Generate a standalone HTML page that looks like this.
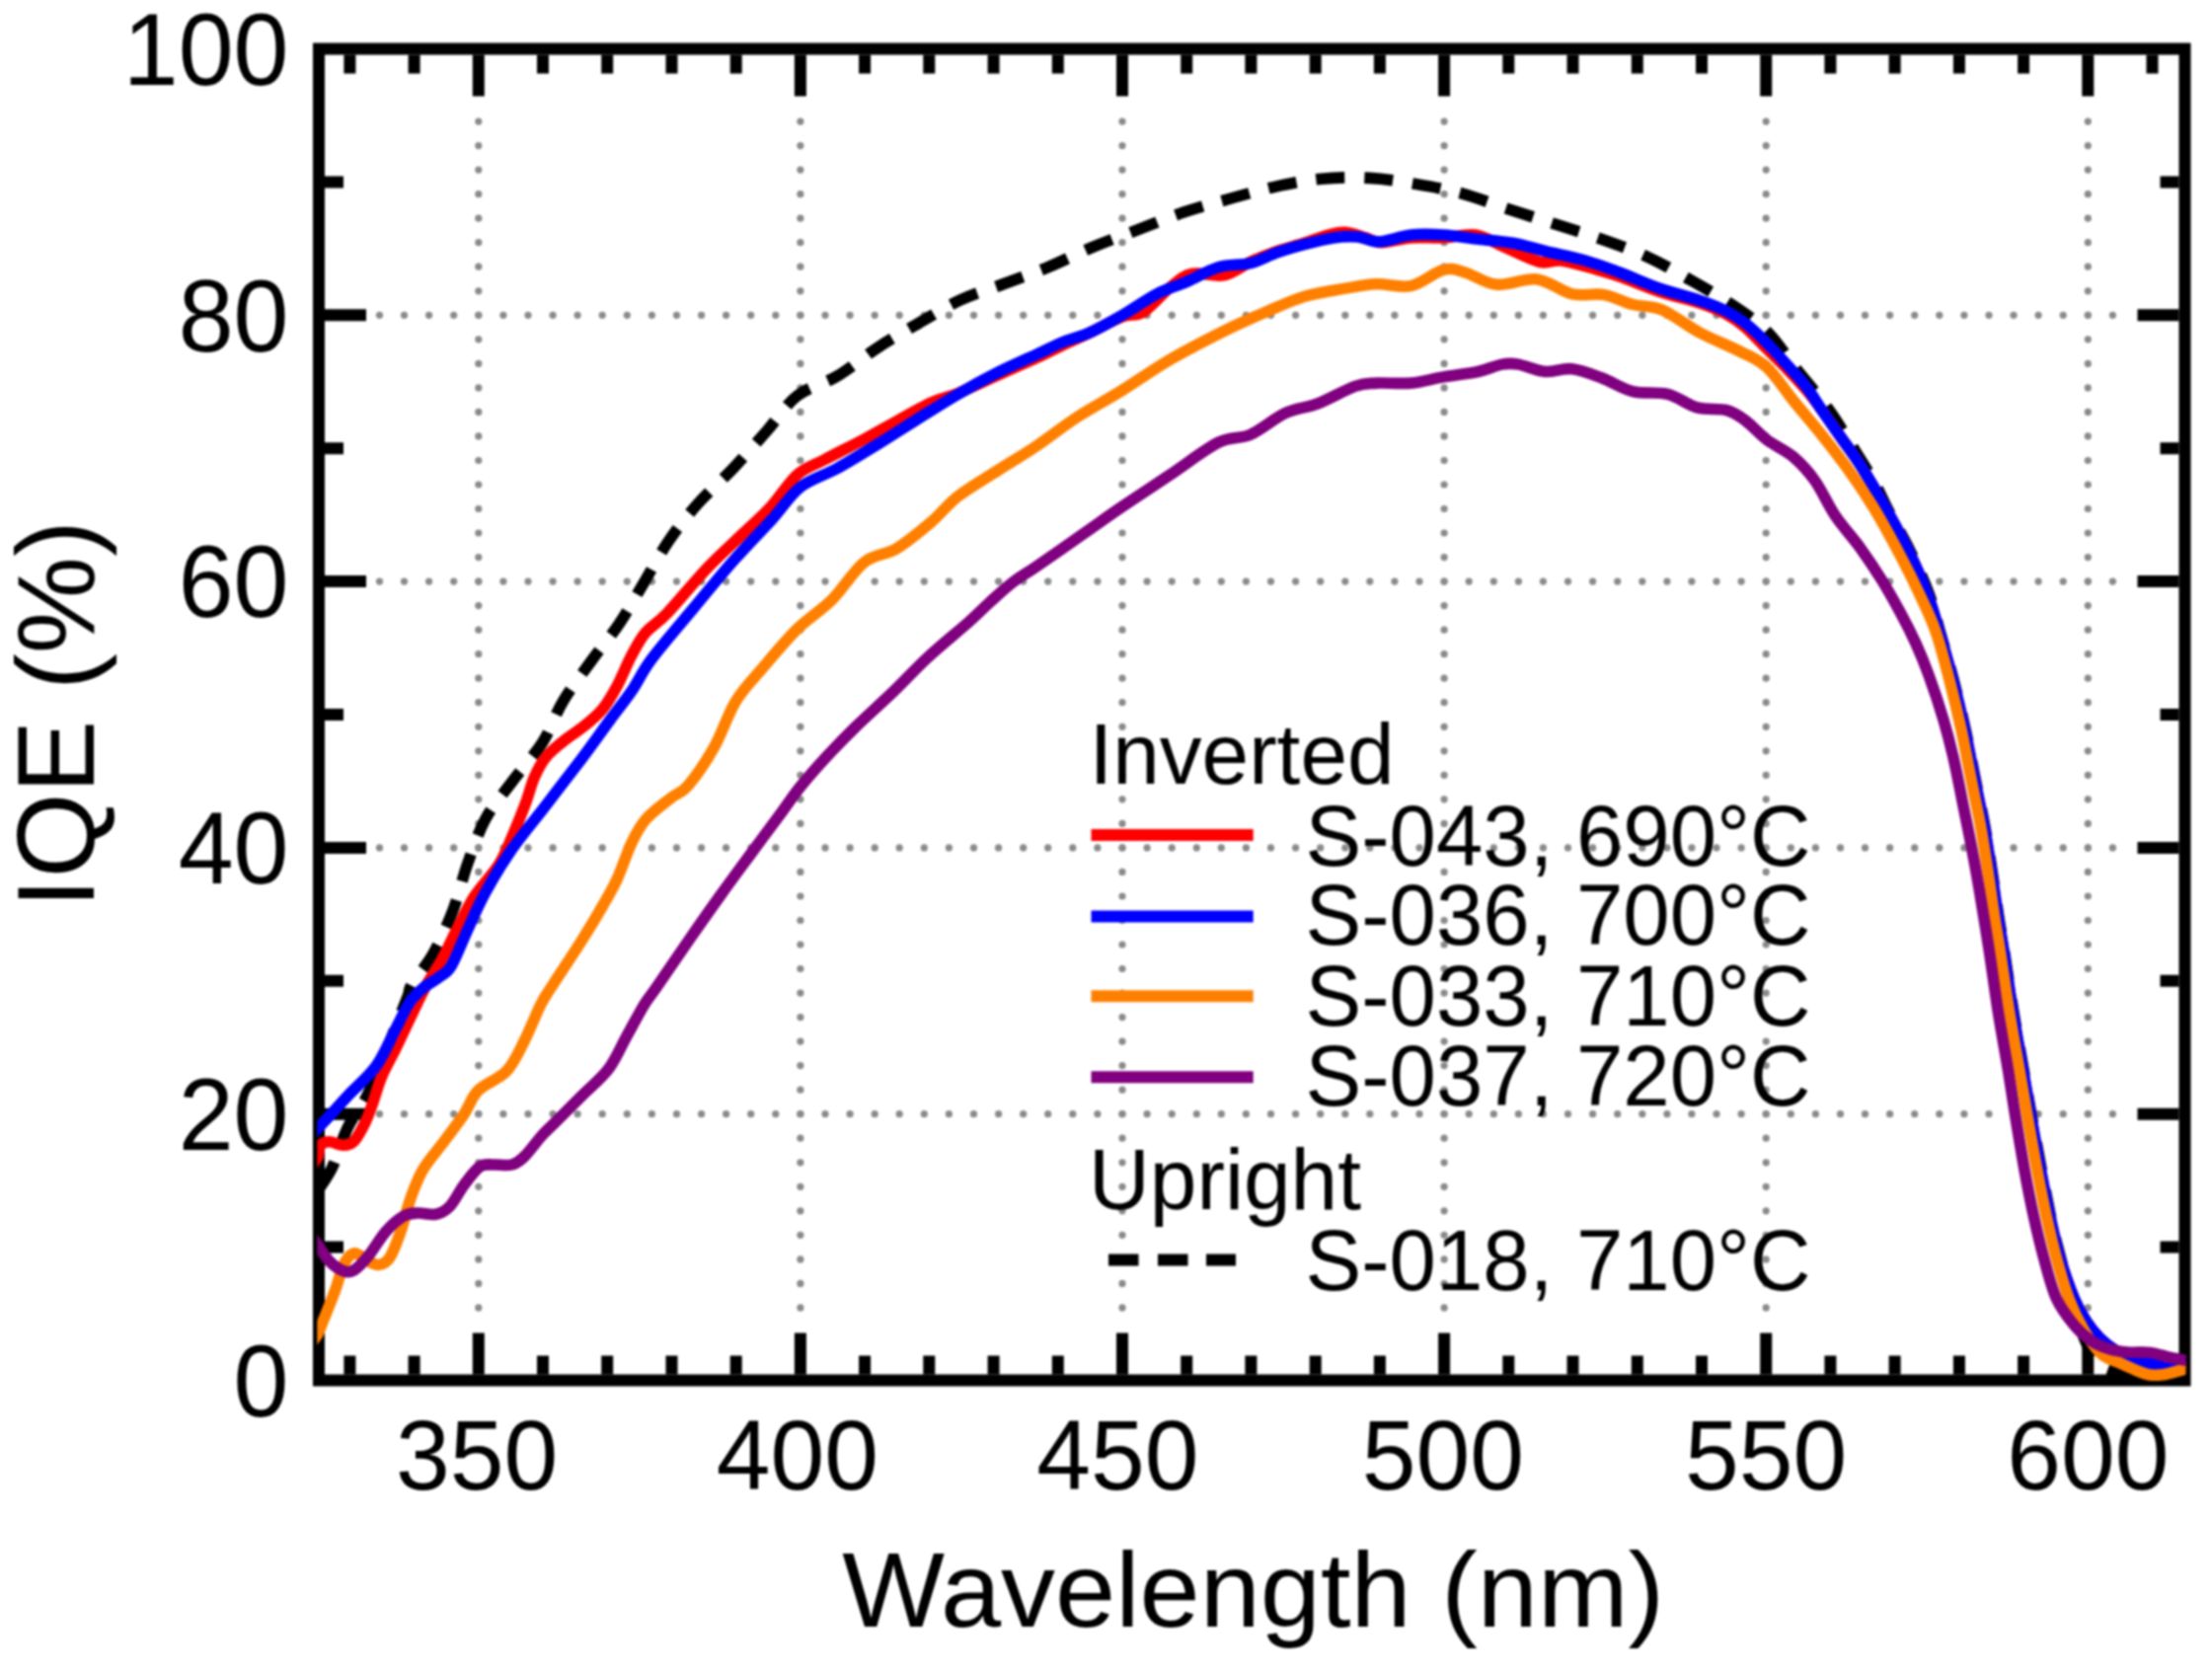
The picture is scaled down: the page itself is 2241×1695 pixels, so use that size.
<!DOCTYPE html><html><head><meta charset="utf-8"><title>IQE vs Wavelength</title><style>html,body{margin:0;padding:0;background:#fff;overflow:hidden}svg{display:block;filter:blur(1.1px)}</style></head><body><svg width="2241" height="1695" viewBox="0 0 2241 1695">
<rect width="2241" height="1695" fill="#fff"/>
<g fill="#8a8a8a"><circle cx="484.8" cy="1324.9" r="3.6"/><circle cx="484.8" cy="1300.4" r="3.6"/><circle cx="484.8" cy="1275.9" r="3.6"/><circle cx="484.8" cy="1251.3" r="3.6"/><circle cx="484.8" cy="1226.8" r="3.6"/><circle cx="484.8" cy="1202.3" r="3.6"/><circle cx="484.8" cy="1177.8" r="3.6"/><circle cx="484.8" cy="1153.2" r="3.6"/><circle cx="484.8" cy="1128.7" r="3.6"/><circle cx="484.8" cy="1104.2" r="3.6"/><circle cx="484.8" cy="1079.6" r="3.6"/><circle cx="484.8" cy="1055.1" r="3.6"/><circle cx="484.8" cy="1030.6" r="3.6"/><circle cx="484.8" cy="1006.1" r="3.6"/><circle cx="484.8" cy="981.5" r="3.6"/><circle cx="484.8" cy="957.0" r="3.6"/><circle cx="484.8" cy="932.5" r="3.6"/><circle cx="484.8" cy="908.0" r="3.6"/><circle cx="484.8" cy="883.4" r="3.6"/><circle cx="484.8" cy="858.9" r="3.6"/><circle cx="484.8" cy="834.4" r="3.6"/><circle cx="484.8" cy="809.8" r="3.6"/><circle cx="484.8" cy="785.3" r="3.6"/><circle cx="484.8" cy="760.8" r="3.6"/><circle cx="484.8" cy="736.3" r="3.6"/><circle cx="484.8" cy="711.7" r="3.6"/><circle cx="484.8" cy="687.2" r="3.6"/><circle cx="484.8" cy="662.7" r="3.6"/><circle cx="484.8" cy="638.2" r="3.6"/><circle cx="484.8" cy="613.6" r="3.6"/><circle cx="484.8" cy="589.1" r="3.6"/><circle cx="484.8" cy="564.6" r="3.6"/><circle cx="484.8" cy="540.0" r="3.6"/><circle cx="484.8" cy="515.5" r="3.6"/><circle cx="484.8" cy="491.0" r="3.6"/><circle cx="484.8" cy="466.5" r="3.6"/><circle cx="484.8" cy="441.9" r="3.6"/><circle cx="484.8" cy="417.4" r="3.6"/><circle cx="484.8" cy="392.9" r="3.6"/><circle cx="484.8" cy="368.4" r="3.6"/><circle cx="484.8" cy="343.8" r="3.6"/><circle cx="484.8" cy="319.3" r="3.6"/><circle cx="484.8" cy="294.8" r="3.6"/><circle cx="484.8" cy="270.2" r="3.6"/><circle cx="484.8" cy="245.7" r="3.6"/><circle cx="484.8" cy="221.2" r="3.6"/><circle cx="484.8" cy="196.7" r="3.6"/><circle cx="484.8" cy="172.1" r="3.6"/><circle cx="484.8" cy="147.6" r="3.6"/><circle cx="484.8" cy="123.1" r="3.6"/><circle cx="810.9" cy="1324.9" r="3.6"/><circle cx="810.9" cy="1300.4" r="3.6"/><circle cx="810.9" cy="1275.9" r="3.6"/><circle cx="810.9" cy="1251.3" r="3.6"/><circle cx="810.9" cy="1226.8" r="3.6"/><circle cx="810.9" cy="1202.3" r="3.6"/><circle cx="810.9" cy="1177.8" r="3.6"/><circle cx="810.9" cy="1153.2" r="3.6"/><circle cx="810.9" cy="1128.7" r="3.6"/><circle cx="810.9" cy="1104.2" r="3.6"/><circle cx="810.9" cy="1079.6" r="3.6"/><circle cx="810.9" cy="1055.1" r="3.6"/><circle cx="810.9" cy="1030.6" r="3.6"/><circle cx="810.9" cy="1006.1" r="3.6"/><circle cx="810.9" cy="981.5" r="3.6"/><circle cx="810.9" cy="957.0" r="3.6"/><circle cx="810.9" cy="932.5" r="3.6"/><circle cx="810.9" cy="908.0" r="3.6"/><circle cx="810.9" cy="883.4" r="3.6"/><circle cx="810.9" cy="858.9" r="3.6"/><circle cx="810.9" cy="834.4" r="3.6"/><circle cx="810.9" cy="809.8" r="3.6"/><circle cx="810.9" cy="785.3" r="3.6"/><circle cx="810.9" cy="760.8" r="3.6"/><circle cx="810.9" cy="736.3" r="3.6"/><circle cx="810.9" cy="711.7" r="3.6"/><circle cx="810.9" cy="687.2" r="3.6"/><circle cx="810.9" cy="662.7" r="3.6"/><circle cx="810.9" cy="638.2" r="3.6"/><circle cx="810.9" cy="613.6" r="3.6"/><circle cx="810.9" cy="589.1" r="3.6"/><circle cx="810.9" cy="564.6" r="3.6"/><circle cx="810.9" cy="540.0" r="3.6"/><circle cx="810.9" cy="515.5" r="3.6"/><circle cx="810.9" cy="491.0" r="3.6"/><circle cx="810.9" cy="466.5" r="3.6"/><circle cx="810.9" cy="441.9" r="3.6"/><circle cx="810.9" cy="417.4" r="3.6"/><circle cx="810.9" cy="392.9" r="3.6"/><circle cx="810.9" cy="368.4" r="3.6"/><circle cx="810.9" cy="343.8" r="3.6"/><circle cx="810.9" cy="319.3" r="3.6"/><circle cx="810.9" cy="294.8" r="3.6"/><circle cx="810.9" cy="270.2" r="3.6"/><circle cx="810.9" cy="245.7" r="3.6"/><circle cx="810.9" cy="221.2" r="3.6"/><circle cx="810.9" cy="196.7" r="3.6"/><circle cx="810.9" cy="172.1" r="3.6"/><circle cx="810.9" cy="147.6" r="3.6"/><circle cx="810.9" cy="123.1" r="3.6"/><circle cx="1137.0" cy="1324.9" r="3.6"/><circle cx="1137.0" cy="1300.4" r="3.6"/><circle cx="1137.0" cy="1275.9" r="3.6"/><circle cx="1137.0" cy="1251.3" r="3.6"/><circle cx="1137.0" cy="1226.8" r="3.6"/><circle cx="1137.0" cy="1202.3" r="3.6"/><circle cx="1137.0" cy="1177.8" r="3.6"/><circle cx="1137.0" cy="1153.2" r="3.6"/><circle cx="1137.0" cy="1128.7" r="3.6"/><circle cx="1137.0" cy="1104.2" r="3.6"/><circle cx="1137.0" cy="1079.6" r="3.6"/><circle cx="1137.0" cy="1055.1" r="3.6"/><circle cx="1137.0" cy="1030.6" r="3.6"/><circle cx="1137.0" cy="1006.1" r="3.6"/><circle cx="1137.0" cy="981.5" r="3.6"/><circle cx="1137.0" cy="957.0" r="3.6"/><circle cx="1137.0" cy="932.5" r="3.6"/><circle cx="1137.0" cy="908.0" r="3.6"/><circle cx="1137.0" cy="883.4" r="3.6"/><circle cx="1137.0" cy="858.9" r="3.6"/><circle cx="1137.0" cy="834.4" r="3.6"/><circle cx="1137.0" cy="809.8" r="3.6"/><circle cx="1137.0" cy="785.3" r="3.6"/><circle cx="1137.0" cy="760.8" r="3.6"/><circle cx="1137.0" cy="736.3" r="3.6"/><circle cx="1137.0" cy="711.7" r="3.6"/><circle cx="1137.0" cy="687.2" r="3.6"/><circle cx="1137.0" cy="662.7" r="3.6"/><circle cx="1137.0" cy="638.2" r="3.6"/><circle cx="1137.0" cy="613.6" r="3.6"/><circle cx="1137.0" cy="589.1" r="3.6"/><circle cx="1137.0" cy="564.6" r="3.6"/><circle cx="1137.0" cy="540.0" r="3.6"/><circle cx="1137.0" cy="515.5" r="3.6"/><circle cx="1137.0" cy="491.0" r="3.6"/><circle cx="1137.0" cy="466.5" r="3.6"/><circle cx="1137.0" cy="441.9" r="3.6"/><circle cx="1137.0" cy="417.4" r="3.6"/><circle cx="1137.0" cy="392.9" r="3.6"/><circle cx="1137.0" cy="368.4" r="3.6"/><circle cx="1137.0" cy="343.8" r="3.6"/><circle cx="1137.0" cy="319.3" r="3.6"/><circle cx="1137.0" cy="294.8" r="3.6"/><circle cx="1137.0" cy="270.2" r="3.6"/><circle cx="1137.0" cy="245.7" r="3.6"/><circle cx="1137.0" cy="221.2" r="3.6"/><circle cx="1137.0" cy="196.7" r="3.6"/><circle cx="1137.0" cy="172.1" r="3.6"/><circle cx="1137.0" cy="147.6" r="3.6"/><circle cx="1137.0" cy="123.1" r="3.6"/><circle cx="1463.1" cy="1324.9" r="3.6"/><circle cx="1463.1" cy="1300.4" r="3.6"/><circle cx="1463.1" cy="1275.9" r="3.6"/><circle cx="1463.1" cy="1251.3" r="3.6"/><circle cx="1463.1" cy="1226.8" r="3.6"/><circle cx="1463.1" cy="1202.3" r="3.6"/><circle cx="1463.1" cy="1177.8" r="3.6"/><circle cx="1463.1" cy="1153.2" r="3.6"/><circle cx="1463.1" cy="1128.7" r="3.6"/><circle cx="1463.1" cy="1104.2" r="3.6"/><circle cx="1463.1" cy="1079.6" r="3.6"/><circle cx="1463.1" cy="1055.1" r="3.6"/><circle cx="1463.1" cy="1030.6" r="3.6"/><circle cx="1463.1" cy="1006.1" r="3.6"/><circle cx="1463.1" cy="981.5" r="3.6"/><circle cx="1463.1" cy="957.0" r="3.6"/><circle cx="1463.1" cy="932.5" r="3.6"/><circle cx="1463.1" cy="908.0" r="3.6"/><circle cx="1463.1" cy="883.4" r="3.6"/><circle cx="1463.1" cy="858.9" r="3.6"/><circle cx="1463.1" cy="834.4" r="3.6"/><circle cx="1463.1" cy="809.8" r="3.6"/><circle cx="1463.1" cy="785.3" r="3.6"/><circle cx="1463.1" cy="760.8" r="3.6"/><circle cx="1463.1" cy="736.3" r="3.6"/><circle cx="1463.1" cy="711.7" r="3.6"/><circle cx="1463.1" cy="687.2" r="3.6"/><circle cx="1463.1" cy="662.7" r="3.6"/><circle cx="1463.1" cy="638.2" r="3.6"/><circle cx="1463.1" cy="613.6" r="3.6"/><circle cx="1463.1" cy="589.1" r="3.6"/><circle cx="1463.1" cy="564.6" r="3.6"/><circle cx="1463.1" cy="540.0" r="3.6"/><circle cx="1463.1" cy="515.5" r="3.6"/><circle cx="1463.1" cy="491.0" r="3.6"/><circle cx="1463.1" cy="466.5" r="3.6"/><circle cx="1463.1" cy="441.9" r="3.6"/><circle cx="1463.1" cy="417.4" r="3.6"/><circle cx="1463.1" cy="392.9" r="3.6"/><circle cx="1463.1" cy="368.4" r="3.6"/><circle cx="1463.1" cy="343.8" r="3.6"/><circle cx="1463.1" cy="319.3" r="3.6"/><circle cx="1463.1" cy="294.8" r="3.6"/><circle cx="1463.1" cy="270.2" r="3.6"/><circle cx="1463.1" cy="245.7" r="3.6"/><circle cx="1463.1" cy="221.2" r="3.6"/><circle cx="1463.1" cy="196.7" r="3.6"/><circle cx="1463.1" cy="172.1" r="3.6"/><circle cx="1463.1" cy="147.6" r="3.6"/><circle cx="1463.1" cy="123.1" r="3.6"/><circle cx="1789.2" cy="1324.9" r="3.6"/><circle cx="1789.2" cy="1300.4" r="3.6"/><circle cx="1789.2" cy="1275.9" r="3.6"/><circle cx="1789.2" cy="1251.3" r="3.6"/><circle cx="1789.2" cy="1226.8" r="3.6"/><circle cx="1789.2" cy="1202.3" r="3.6"/><circle cx="1789.2" cy="1177.8" r="3.6"/><circle cx="1789.2" cy="1153.2" r="3.6"/><circle cx="1789.2" cy="1128.7" r="3.6"/><circle cx="1789.2" cy="1104.2" r="3.6"/><circle cx="1789.2" cy="1079.6" r="3.6"/><circle cx="1789.2" cy="1055.1" r="3.6"/><circle cx="1789.2" cy="1030.6" r="3.6"/><circle cx="1789.2" cy="1006.1" r="3.6"/><circle cx="1789.2" cy="981.5" r="3.6"/><circle cx="1789.2" cy="957.0" r="3.6"/><circle cx="1789.2" cy="932.5" r="3.6"/><circle cx="1789.2" cy="908.0" r="3.6"/><circle cx="1789.2" cy="883.4" r="3.6"/><circle cx="1789.2" cy="858.9" r="3.6"/><circle cx="1789.2" cy="834.4" r="3.6"/><circle cx="1789.2" cy="809.8" r="3.6"/><circle cx="1789.2" cy="785.3" r="3.6"/><circle cx="1789.2" cy="760.8" r="3.6"/><circle cx="1789.2" cy="736.3" r="3.6"/><circle cx="1789.2" cy="711.7" r="3.6"/><circle cx="1789.2" cy="687.2" r="3.6"/><circle cx="1789.2" cy="662.7" r="3.6"/><circle cx="1789.2" cy="638.2" r="3.6"/><circle cx="1789.2" cy="613.6" r="3.6"/><circle cx="1789.2" cy="589.1" r="3.6"/><circle cx="1789.2" cy="564.6" r="3.6"/><circle cx="1789.2" cy="540.0" r="3.6"/><circle cx="1789.2" cy="515.5" r="3.6"/><circle cx="1789.2" cy="491.0" r="3.6"/><circle cx="1789.2" cy="466.5" r="3.6"/><circle cx="1789.2" cy="441.9" r="3.6"/><circle cx="1789.2" cy="417.4" r="3.6"/><circle cx="1789.2" cy="392.9" r="3.6"/><circle cx="1789.2" cy="368.4" r="3.6"/><circle cx="1789.2" cy="343.8" r="3.6"/><circle cx="1789.2" cy="319.3" r="3.6"/><circle cx="1789.2" cy="294.8" r="3.6"/><circle cx="1789.2" cy="270.2" r="3.6"/><circle cx="1789.2" cy="245.7" r="3.6"/><circle cx="1789.2" cy="221.2" r="3.6"/><circle cx="1789.2" cy="196.7" r="3.6"/><circle cx="1789.2" cy="172.1" r="3.6"/><circle cx="1789.2" cy="147.6" r="3.6"/><circle cx="1789.2" cy="123.1" r="3.6"/><circle cx="2115.3" cy="1324.9" r="3.6"/><circle cx="2115.3" cy="1300.4" r="3.6"/><circle cx="2115.3" cy="1275.9" r="3.6"/><circle cx="2115.3" cy="1251.3" r="3.6"/><circle cx="2115.3" cy="1226.8" r="3.6"/><circle cx="2115.3" cy="1202.3" r="3.6"/><circle cx="2115.3" cy="1177.8" r="3.6"/><circle cx="2115.3" cy="1153.2" r="3.6"/><circle cx="2115.3" cy="1128.7" r="3.6"/><circle cx="2115.3" cy="1104.2" r="3.6"/><circle cx="2115.3" cy="1079.6" r="3.6"/><circle cx="2115.3" cy="1055.1" r="3.6"/><circle cx="2115.3" cy="1030.6" r="3.6"/><circle cx="2115.3" cy="1006.1" r="3.6"/><circle cx="2115.3" cy="981.5" r="3.6"/><circle cx="2115.3" cy="957.0" r="3.6"/><circle cx="2115.3" cy="932.5" r="3.6"/><circle cx="2115.3" cy="908.0" r="3.6"/><circle cx="2115.3" cy="883.4" r="3.6"/><circle cx="2115.3" cy="858.9" r="3.6"/><circle cx="2115.3" cy="834.4" r="3.6"/><circle cx="2115.3" cy="809.8" r="3.6"/><circle cx="2115.3" cy="785.3" r="3.6"/><circle cx="2115.3" cy="760.8" r="3.6"/><circle cx="2115.3" cy="736.3" r="3.6"/><circle cx="2115.3" cy="711.7" r="3.6"/><circle cx="2115.3" cy="687.2" r="3.6"/><circle cx="2115.3" cy="662.7" r="3.6"/><circle cx="2115.3" cy="638.2" r="3.6"/><circle cx="2115.3" cy="613.6" r="3.6"/><circle cx="2115.3" cy="589.1" r="3.6"/><circle cx="2115.3" cy="564.6" r="3.6"/><circle cx="2115.3" cy="540.0" r="3.6"/><circle cx="2115.3" cy="515.5" r="3.6"/><circle cx="2115.3" cy="491.0" r="3.6"/><circle cx="2115.3" cy="466.5" r="3.6"/><circle cx="2115.3" cy="441.9" r="3.6"/><circle cx="2115.3" cy="417.4" r="3.6"/><circle cx="2115.3" cy="392.9" r="3.6"/><circle cx="2115.3" cy="368.4" r="3.6"/><circle cx="2115.3" cy="343.8" r="3.6"/><circle cx="2115.3" cy="319.3" r="3.6"/><circle cx="2115.3" cy="294.8" r="3.6"/><circle cx="2115.3" cy="270.2" r="3.6"/><circle cx="2115.3" cy="245.7" r="3.6"/><circle cx="2115.3" cy="221.2" r="3.6"/><circle cx="2115.3" cy="196.7" r="3.6"/><circle cx="2115.3" cy="172.1" r="3.6"/><circle cx="2115.3" cy="147.6" r="3.6"/><circle cx="2115.3" cy="123.1" r="3.6"/><circle cx="384.5" cy="1128.7" r="3.6"/><circle cx="409.5" cy="1128.7" r="3.6"/><circle cx="434.6" cy="1128.7" r="3.6"/><circle cx="459.7" cy="1128.7" r="3.6"/><circle cx="484.8" cy="1128.7" r="3.6"/><circle cx="509.9" cy="1128.7" r="3.6"/><circle cx="535.0" cy="1128.7" r="3.6"/><circle cx="560.1" cy="1128.7" r="3.6"/><circle cx="585.1" cy="1128.7" r="3.6"/><circle cx="610.2" cy="1128.7" r="3.6"/><circle cx="635.3" cy="1128.7" r="3.6"/><circle cx="660.4" cy="1128.7" r="3.6"/><circle cx="685.5" cy="1128.7" r="3.6"/><circle cx="710.6" cy="1128.7" r="3.6"/><circle cx="735.6" cy="1128.7" r="3.6"/><circle cx="760.7" cy="1128.7" r="3.6"/><circle cx="785.8" cy="1128.7" r="3.6"/><circle cx="810.9" cy="1128.7" r="3.6"/><circle cx="836.0" cy="1128.7" r="3.6"/><circle cx="861.1" cy="1128.7" r="3.6"/><circle cx="886.2" cy="1128.7" r="3.6"/><circle cx="911.2" cy="1128.7" r="3.6"/><circle cx="936.3" cy="1128.7" r="3.6"/><circle cx="961.4" cy="1128.7" r="3.6"/><circle cx="986.5" cy="1128.7" r="3.6"/><circle cx="1011.6" cy="1128.7" r="3.6"/><circle cx="1036.7" cy="1128.7" r="3.6"/><circle cx="1061.7" cy="1128.7" r="3.6"/><circle cx="1086.8" cy="1128.7" r="3.6"/><circle cx="1111.9" cy="1128.7" r="3.6"/><circle cx="1137.0" cy="1128.7" r="3.6"/><circle cx="1162.1" cy="1128.7" r="3.6"/><circle cx="1187.2" cy="1128.7" r="3.6"/><circle cx="1212.3" cy="1128.7" r="3.6"/><circle cx="1237.3" cy="1128.7" r="3.6"/><circle cx="1262.4" cy="1128.7" r="3.6"/><circle cx="1287.5" cy="1128.7" r="3.6"/><circle cx="1312.6" cy="1128.7" r="3.6"/><circle cx="1337.7" cy="1128.7" r="3.6"/><circle cx="1362.8" cy="1128.7" r="3.6"/><circle cx="1387.8" cy="1128.7" r="3.6"/><circle cx="1412.9" cy="1128.7" r="3.6"/><circle cx="1438.0" cy="1128.7" r="3.6"/><circle cx="1463.1" cy="1128.7" r="3.6"/><circle cx="1488.2" cy="1128.7" r="3.6"/><circle cx="1513.3" cy="1128.7" r="3.6"/><circle cx="1538.4" cy="1128.7" r="3.6"/><circle cx="1563.4" cy="1128.7" r="3.6"/><circle cx="1588.5" cy="1128.7" r="3.6"/><circle cx="1613.6" cy="1128.7" r="3.6"/><circle cx="1638.7" cy="1128.7" r="3.6"/><circle cx="1663.8" cy="1128.7" r="3.6"/><circle cx="1688.9" cy="1128.7" r="3.6"/><circle cx="1713.9" cy="1128.7" r="3.6"/><circle cx="1739.0" cy="1128.7" r="3.6"/><circle cx="1764.1" cy="1128.7" r="3.6"/><circle cx="1789.2" cy="1128.7" r="3.6"/><circle cx="1814.3" cy="1128.7" r="3.6"/><circle cx="1839.4" cy="1128.7" r="3.6"/><circle cx="1864.5" cy="1128.7" r="3.6"/><circle cx="1889.5" cy="1128.7" r="3.6"/><circle cx="1914.6" cy="1128.7" r="3.6"/><circle cx="1939.7" cy="1128.7" r="3.6"/><circle cx="1964.8" cy="1128.7" r="3.6"/><circle cx="1989.9" cy="1128.7" r="3.6"/><circle cx="2015.0" cy="1128.7" r="3.6"/><circle cx="2040.0" cy="1128.7" r="3.6"/><circle cx="2065.1" cy="1128.7" r="3.6"/><circle cx="2090.2" cy="1128.7" r="3.6"/><circle cx="2115.3" cy="1128.7" r="3.6"/><circle cx="2140.4" cy="1128.7" r="3.6"/><circle cx="384.5" cy="858.9" r="3.6"/><circle cx="409.5" cy="858.9" r="3.6"/><circle cx="434.6" cy="858.9" r="3.6"/><circle cx="459.7" cy="858.9" r="3.6"/><circle cx="484.8" cy="858.9" r="3.6"/><circle cx="509.9" cy="858.9" r="3.6"/><circle cx="535.0" cy="858.9" r="3.6"/><circle cx="560.1" cy="858.9" r="3.6"/><circle cx="585.1" cy="858.9" r="3.6"/><circle cx="610.2" cy="858.9" r="3.6"/><circle cx="635.3" cy="858.9" r="3.6"/><circle cx="660.4" cy="858.9" r="3.6"/><circle cx="685.5" cy="858.9" r="3.6"/><circle cx="710.6" cy="858.9" r="3.6"/><circle cx="735.6" cy="858.9" r="3.6"/><circle cx="760.7" cy="858.9" r="3.6"/><circle cx="785.8" cy="858.9" r="3.6"/><circle cx="810.9" cy="858.9" r="3.6"/><circle cx="836.0" cy="858.9" r="3.6"/><circle cx="861.1" cy="858.9" r="3.6"/><circle cx="886.2" cy="858.9" r="3.6"/><circle cx="911.2" cy="858.9" r="3.6"/><circle cx="936.3" cy="858.9" r="3.6"/><circle cx="961.4" cy="858.9" r="3.6"/><circle cx="986.5" cy="858.9" r="3.6"/><circle cx="1011.6" cy="858.9" r="3.6"/><circle cx="1036.7" cy="858.9" r="3.6"/><circle cx="1061.7" cy="858.9" r="3.6"/><circle cx="1086.8" cy="858.9" r="3.6"/><circle cx="1111.9" cy="858.9" r="3.6"/><circle cx="1137.0" cy="858.9" r="3.6"/><circle cx="1162.1" cy="858.9" r="3.6"/><circle cx="1187.2" cy="858.9" r="3.6"/><circle cx="1212.3" cy="858.9" r="3.6"/><circle cx="1237.3" cy="858.9" r="3.6"/><circle cx="1262.4" cy="858.9" r="3.6"/><circle cx="1287.5" cy="858.9" r="3.6"/><circle cx="1312.6" cy="858.9" r="3.6"/><circle cx="1337.7" cy="858.9" r="3.6"/><circle cx="1362.8" cy="858.9" r="3.6"/><circle cx="1387.8" cy="858.9" r="3.6"/><circle cx="1412.9" cy="858.9" r="3.6"/><circle cx="1438.0" cy="858.9" r="3.6"/><circle cx="1463.1" cy="858.9" r="3.6"/><circle cx="1488.2" cy="858.9" r="3.6"/><circle cx="1513.3" cy="858.9" r="3.6"/><circle cx="1538.4" cy="858.9" r="3.6"/><circle cx="1563.4" cy="858.9" r="3.6"/><circle cx="1588.5" cy="858.9" r="3.6"/><circle cx="1613.6" cy="858.9" r="3.6"/><circle cx="1638.7" cy="858.9" r="3.6"/><circle cx="1663.8" cy="858.9" r="3.6"/><circle cx="1688.9" cy="858.9" r="3.6"/><circle cx="1713.9" cy="858.9" r="3.6"/><circle cx="1739.0" cy="858.9" r="3.6"/><circle cx="1764.1" cy="858.9" r="3.6"/><circle cx="1789.2" cy="858.9" r="3.6"/><circle cx="1814.3" cy="858.9" r="3.6"/><circle cx="1839.4" cy="858.9" r="3.6"/><circle cx="1864.5" cy="858.9" r="3.6"/><circle cx="1889.5" cy="858.9" r="3.6"/><circle cx="1914.6" cy="858.9" r="3.6"/><circle cx="1939.7" cy="858.9" r="3.6"/><circle cx="1964.8" cy="858.9" r="3.6"/><circle cx="1989.9" cy="858.9" r="3.6"/><circle cx="2015.0" cy="858.9" r="3.6"/><circle cx="2040.0" cy="858.9" r="3.6"/><circle cx="2065.1" cy="858.9" r="3.6"/><circle cx="2090.2" cy="858.9" r="3.6"/><circle cx="2115.3" cy="858.9" r="3.6"/><circle cx="2140.4" cy="858.9" r="3.6"/><circle cx="384.5" cy="589.1" r="3.6"/><circle cx="409.5" cy="589.1" r="3.6"/><circle cx="434.6" cy="589.1" r="3.6"/><circle cx="459.7" cy="589.1" r="3.6"/><circle cx="484.8" cy="589.1" r="3.6"/><circle cx="509.9" cy="589.1" r="3.6"/><circle cx="535.0" cy="589.1" r="3.6"/><circle cx="560.1" cy="589.1" r="3.6"/><circle cx="585.1" cy="589.1" r="3.6"/><circle cx="610.2" cy="589.1" r="3.6"/><circle cx="635.3" cy="589.1" r="3.6"/><circle cx="660.4" cy="589.1" r="3.6"/><circle cx="685.5" cy="589.1" r="3.6"/><circle cx="710.6" cy="589.1" r="3.6"/><circle cx="735.6" cy="589.1" r="3.6"/><circle cx="760.7" cy="589.1" r="3.6"/><circle cx="785.8" cy="589.1" r="3.6"/><circle cx="810.9" cy="589.1" r="3.6"/><circle cx="836.0" cy="589.1" r="3.6"/><circle cx="861.1" cy="589.1" r="3.6"/><circle cx="886.2" cy="589.1" r="3.6"/><circle cx="911.2" cy="589.1" r="3.6"/><circle cx="936.3" cy="589.1" r="3.6"/><circle cx="961.4" cy="589.1" r="3.6"/><circle cx="986.5" cy="589.1" r="3.6"/><circle cx="1011.6" cy="589.1" r="3.6"/><circle cx="1036.7" cy="589.1" r="3.6"/><circle cx="1061.7" cy="589.1" r="3.6"/><circle cx="1086.8" cy="589.1" r="3.6"/><circle cx="1111.9" cy="589.1" r="3.6"/><circle cx="1137.0" cy="589.1" r="3.6"/><circle cx="1162.1" cy="589.1" r="3.6"/><circle cx="1187.2" cy="589.1" r="3.6"/><circle cx="1212.3" cy="589.1" r="3.6"/><circle cx="1237.3" cy="589.1" r="3.6"/><circle cx="1262.4" cy="589.1" r="3.6"/><circle cx="1287.5" cy="589.1" r="3.6"/><circle cx="1312.6" cy="589.1" r="3.6"/><circle cx="1337.7" cy="589.1" r="3.6"/><circle cx="1362.8" cy="589.1" r="3.6"/><circle cx="1387.8" cy="589.1" r="3.6"/><circle cx="1412.9" cy="589.1" r="3.6"/><circle cx="1438.0" cy="589.1" r="3.6"/><circle cx="1463.1" cy="589.1" r="3.6"/><circle cx="1488.2" cy="589.1" r="3.6"/><circle cx="1513.3" cy="589.1" r="3.6"/><circle cx="1538.4" cy="589.1" r="3.6"/><circle cx="1563.4" cy="589.1" r="3.6"/><circle cx="1588.5" cy="589.1" r="3.6"/><circle cx="1613.6" cy="589.1" r="3.6"/><circle cx="1638.7" cy="589.1" r="3.6"/><circle cx="1663.8" cy="589.1" r="3.6"/><circle cx="1688.9" cy="589.1" r="3.6"/><circle cx="1713.9" cy="589.1" r="3.6"/><circle cx="1739.0" cy="589.1" r="3.6"/><circle cx="1764.1" cy="589.1" r="3.6"/><circle cx="1789.2" cy="589.1" r="3.6"/><circle cx="1814.3" cy="589.1" r="3.6"/><circle cx="1839.4" cy="589.1" r="3.6"/><circle cx="1864.5" cy="589.1" r="3.6"/><circle cx="1889.5" cy="589.1" r="3.6"/><circle cx="1914.6" cy="589.1" r="3.6"/><circle cx="1939.7" cy="589.1" r="3.6"/><circle cx="1964.8" cy="589.1" r="3.6"/><circle cx="1989.9" cy="589.1" r="3.6"/><circle cx="2015.0" cy="589.1" r="3.6"/><circle cx="2040.0" cy="589.1" r="3.6"/><circle cx="2065.1" cy="589.1" r="3.6"/><circle cx="2090.2" cy="589.1" r="3.6"/><circle cx="2115.3" cy="589.1" r="3.6"/><circle cx="2140.4" cy="589.1" r="3.6"/><circle cx="384.5" cy="319.3" r="3.6"/><circle cx="409.5" cy="319.3" r="3.6"/><circle cx="434.6" cy="319.3" r="3.6"/><circle cx="459.7" cy="319.3" r="3.6"/><circle cx="484.8" cy="319.3" r="3.6"/><circle cx="509.9" cy="319.3" r="3.6"/><circle cx="535.0" cy="319.3" r="3.6"/><circle cx="560.1" cy="319.3" r="3.6"/><circle cx="585.1" cy="319.3" r="3.6"/><circle cx="610.2" cy="319.3" r="3.6"/><circle cx="635.3" cy="319.3" r="3.6"/><circle cx="660.4" cy="319.3" r="3.6"/><circle cx="685.5" cy="319.3" r="3.6"/><circle cx="710.6" cy="319.3" r="3.6"/><circle cx="735.6" cy="319.3" r="3.6"/><circle cx="760.7" cy="319.3" r="3.6"/><circle cx="785.8" cy="319.3" r="3.6"/><circle cx="810.9" cy="319.3" r="3.6"/><circle cx="836.0" cy="319.3" r="3.6"/><circle cx="861.1" cy="319.3" r="3.6"/><circle cx="886.2" cy="319.3" r="3.6"/><circle cx="911.2" cy="319.3" r="3.6"/><circle cx="936.3" cy="319.3" r="3.6"/><circle cx="961.4" cy="319.3" r="3.6"/><circle cx="986.5" cy="319.3" r="3.6"/><circle cx="1011.6" cy="319.3" r="3.6"/><circle cx="1036.7" cy="319.3" r="3.6"/><circle cx="1061.7" cy="319.3" r="3.6"/><circle cx="1086.8" cy="319.3" r="3.6"/><circle cx="1111.9" cy="319.3" r="3.6"/><circle cx="1137.0" cy="319.3" r="3.6"/><circle cx="1162.1" cy="319.3" r="3.6"/><circle cx="1187.2" cy="319.3" r="3.6"/><circle cx="1212.3" cy="319.3" r="3.6"/><circle cx="1237.3" cy="319.3" r="3.6"/><circle cx="1262.4" cy="319.3" r="3.6"/><circle cx="1287.5" cy="319.3" r="3.6"/><circle cx="1312.6" cy="319.3" r="3.6"/><circle cx="1337.7" cy="319.3" r="3.6"/><circle cx="1362.8" cy="319.3" r="3.6"/><circle cx="1387.8" cy="319.3" r="3.6"/><circle cx="1412.9" cy="319.3" r="3.6"/><circle cx="1438.0" cy="319.3" r="3.6"/><circle cx="1463.1" cy="319.3" r="3.6"/><circle cx="1488.2" cy="319.3" r="3.6"/><circle cx="1513.3" cy="319.3" r="3.6"/><circle cx="1538.4" cy="319.3" r="3.6"/><circle cx="1563.4" cy="319.3" r="3.6"/><circle cx="1588.5" cy="319.3" r="3.6"/><circle cx="1613.6" cy="319.3" r="3.6"/><circle cx="1638.7" cy="319.3" r="3.6"/><circle cx="1663.8" cy="319.3" r="3.6"/><circle cx="1688.9" cy="319.3" r="3.6"/><circle cx="1713.9" cy="319.3" r="3.6"/><circle cx="1739.0" cy="319.3" r="3.6"/><circle cx="1764.1" cy="319.3" r="3.6"/><circle cx="1789.2" cy="319.3" r="3.6"/><circle cx="1814.3" cy="319.3" r="3.6"/><circle cx="1839.4" cy="319.3" r="3.6"/><circle cx="1864.5" cy="319.3" r="3.6"/><circle cx="1889.5" cy="319.3" r="3.6"/><circle cx="1914.6" cy="319.3" r="3.6"/><circle cx="1939.7" cy="319.3" r="3.6"/><circle cx="1964.8" cy="319.3" r="3.6"/><circle cx="1989.9" cy="319.3" r="3.6"/><circle cx="2015.0" cy="319.3" r="3.6"/><circle cx="2040.0" cy="319.3" r="3.6"/><circle cx="2065.1" cy="319.3" r="3.6"/><circle cx="2090.2" cy="319.3" r="3.6"/><circle cx="2115.3" cy="319.3" r="3.6"/><circle cx="2140.4" cy="319.3" r="3.6"/></g>
<g stroke="#000" stroke-width="12" fill="none"><path d="M354.4 55.5 v19.0 M354.4 1392.5 v-19.0"/><path d="M419.6 55.5 v19.0 M419.6 1392.5 v-19.0"/><path d="M484.8 55.5 v42.0 M484.8 1392.5 v-42.0"/><path d="M550.0 55.5 v19.0 M550.0 1392.5 v-19.0"/><path d="M615.2 55.5 v19.0 M615.2 1392.5 v-19.0"/><path d="M680.5 55.5 v19.0 M680.5 1392.5 v-19.0"/><path d="M745.7 55.5 v19.0 M745.7 1392.5 v-19.0"/><path d="M810.9 55.5 v42.0 M810.9 1392.5 v-42.0"/><path d="M876.1 55.5 v19.0 M876.1 1392.5 v-19.0"/><path d="M941.3 55.5 v19.0 M941.3 1392.5 v-19.0"/><path d="M1006.6 55.5 v19.0 M1006.6 1392.5 v-19.0"/><path d="M1071.8 55.5 v19.0 M1071.8 1392.5 v-19.0"/><path d="M1137.0 55.5 v42.0 M1137.0 1392.5 v-42.0"/><path d="M1202.2 55.5 v19.0 M1202.2 1392.5 v-19.0"/><path d="M1267.4 55.5 v19.0 M1267.4 1392.5 v-19.0"/><path d="M1332.7 55.5 v19.0 M1332.7 1392.5 v-19.0"/><path d="M1397.9 55.5 v19.0 M1397.9 1392.5 v-19.0"/><path d="M1463.1 55.5 v42.0 M1463.1 1392.5 v-42.0"/><path d="M1528.3 55.5 v19.0 M1528.3 1392.5 v-19.0"/><path d="M1593.5 55.5 v19.0 M1593.5 1392.5 v-19.0"/><path d="M1658.8 55.5 v19.0 M1658.8 1392.5 v-19.0"/><path d="M1724.0 55.5 v19.0 M1724.0 1392.5 v-19.0"/><path d="M1789.2 55.5 v42.0 M1789.2 1392.5 v-42.0"/><path d="M1854.4 55.5 v19.0 M1854.4 1392.5 v-19.0"/><path d="M1919.6 55.5 v19.0 M1919.6 1392.5 v-19.0"/><path d="M1984.9 55.5 v19.0 M1984.9 1392.5 v-19.0"/><path d="M2050.1 55.5 v19.0 M2050.1 1392.5 v-19.0"/><path d="M2115.3 55.5 v42.0 M2115.3 1392.5 v-42.0"/><path d="M2180.5 55.5 v19.0 M2180.5 1392.5 v-19.0"/><path d="M329.0 1263.6 h19.0 M2207.5 1263.6 h-19.0"/><path d="M329.0 1128.7 h42.0 M2207.5 1128.7 h-42.0"/><path d="M329.0 993.8 h19.0 M2207.5 993.8 h-19.0"/><path d="M329.0 858.9 h42.0 M2207.5 858.9 h-42.0"/><path d="M329.0 724.0 h19.0 M2207.5 724.0 h-19.0"/><path d="M329.0 589.1 h42.0 M2207.5 589.1 h-42.0"/><path d="M329.0 454.2 h19.0 M2207.5 454.2 h-19.0"/><path d="M329.0 319.3 h42.0 M2207.5 319.3 h-42.0"/><path d="M329.0 184.4 h19.0 M2207.5 184.4 h-19.0"/></g>
<rect x="323.0" y="49.5" width="1890.5" height="1349.0" fill="none" stroke="#000" stroke-width="12.0"/>
<clipPath id="cp"><rect x="321.3" y="0" width="1893.2" height="1695"/></clipPath>
<g fill="none" stroke-width="11.6" stroke-linejoin="round" clip-path="url(#cp)">
<path d="M316.0 1215.0L323.0 1205.0C325.2 1201.5 332.3 1191.5 336.0 1184.0C339.7 1176.5 342.0 1167.5 345.0 1160.0C348.0 1152.5 349.7 1147.0 354.0 1139.0C358.3 1131.0 365.5 1122.7 371.0 1112.0C376.5 1101.3 382.0 1087.0 387.0 1075.0C392.0 1063.0 396.7 1050.8 401.0 1040.0C405.3 1029.2 410.2 1017.2 413.0 1010.0C415.8 1002.8 413.2 1003.9 417.5 996.6C421.8 989.3 432.1 978.4 439.0 966.0C445.9 953.6 453.2 937.1 459.0 922.0C464.8 906.9 468.2 890.7 473.6 875.4C479.1 860.1 484.2 843.9 491.7 830.0C499.2 816.1 509.2 804.9 518.8 792.0C528.4 779.1 540.9 765.9 549.5 752.4C558.1 738.9 562.1 724.4 570.3 710.7C578.5 697.0 589.3 683.1 598.8 670.0C608.3 656.9 618.5 645.1 627.3 632.0C636.1 618.9 643.3 605.4 651.7 591.4C660.1 577.4 668.2 561.6 677.5 548.0C686.8 534.4 696.4 522.2 707.3 510.0C718.1 497.8 731.1 487.0 742.6 474.8C754.1 462.6 765.6 449.3 776.5 437.0C787.4 424.7 795.7 410.3 807.7 401.0C819.7 391.7 834.8 389.1 848.3 381.0C861.8 372.9 875.3 361.2 889.0 352.3C902.7 343.4 916.5 335.6 930.5 327.6C944.5 319.6 958.1 310.9 972.8 304.1C987.5 297.3 1003.7 292.6 1018.6 287.0C1033.5 281.4 1047.3 276.7 1062.0 270.6C1076.7 264.5 1091.8 256.7 1107.0 250.4C1122.2 244.1 1137.7 238.6 1153.1 232.7C1168.5 226.8 1183.8 220.3 1199.2 215.1C1214.6 209.9 1229.9 205.8 1245.3 201.5C1260.7 197.2 1275.8 192.7 1291.4 189.3C1307.0 185.9 1322.9 182.7 1338.9 181.2C1355.0 179.7 1371.7 179.5 1387.7 180.4C1403.8 181.3 1419.6 184.0 1435.2 186.6C1450.8 189.2 1465.5 191.8 1481.3 196.1C1497.1 200.4 1514.3 207.2 1530.1 212.4C1545.9 217.6 1560.8 222.3 1576.2 227.3C1591.6 232.3 1607.0 236.8 1622.3 242.2C1637.6 247.6 1653.4 253.2 1667.8 259.7C1682.2 266.2 1694.5 273.5 1708.5 281.4C1722.5 289.3 1738.3 298.0 1751.9 307.0C1765.5 316.0 1778.6 324.5 1789.9 335.6C1801.2 346.7 1809.3 360.5 1819.7 373.6C1830.1 386.7 1842.7 401.2 1852.2 414.3C1861.7 427.4 1868.9 440.0 1876.6 452.2C1884.3 464.4 1892.2 476.7 1898.3 487.5C1904.4 498.3 1906.9 505.2 1913.0 517.0C1919.1 528.8 1928.2 544.0 1935.0 558.0C1941.8 572.0 1948.9 587.3 1954.0 601.0C1959.1 614.7 1961.1 625.2 1965.4 640.0C1969.6 654.8 1975.0 673.0 1979.3 689.5C1983.6 706.0 1987.5 722.4 1991.1 739.0C1994.8 755.6 1997.8 772.4 2001.1 789.0C2004.4 805.6 2008.1 822.1 2011.1 838.7C2014.1 855.3 2016.7 873.2 2019.0 888.4C2021.3 903.6 2023.1 917.8 2025.0 930.0C2026.9 942.2 2027.8 946.0 2030.2 961.5C2032.6 977.0 2036.2 1002.5 2039.5 1023.0C2042.8 1043.5 2047.1 1066.7 2050.2 1084.4C2053.3 1102.1 2053.4 1104.8 2057.9 1129.0C2062.3 1153.2 2071.9 1205.5 2076.9 1229.7C2081.8 1254.0 2083.8 1259.5 2087.6 1274.5C2091.4 1289.5 2096.3 1307.1 2100.0 1320.0C2103.7 1332.9 2105.8 1342.0 2110.0 1352.0C2114.2 1362.0 2118.3 1373.7 2125.0 1380.0C2131.7 1386.3 2135.3 1388.0 2150.0 1390.0C2164.7 1392.0 2202.5 1391.7 2213.0 1392.0L2220.0 1392.2" stroke="#000" stroke-width="11.6" stroke-dasharray="29 20" stroke-dashoffset="33.8"/>
<path d="M315.0 1182.0L322.0 1172.0C322.5 1170.0 322.8 1162.8 324.8 1160.3C326.8 1157.8 329.9 1156.8 333.8 1156.8C337.7 1156.8 343.9 1160.4 348.1 1160.3C352.3 1160.2 355.3 1159.6 358.9 1155.9C362.5 1152.2 366.7 1143.9 369.7 1137.9C372.7 1131.9 373.9 1127.9 376.8 1120.0C379.7 1112.1 382.7 1100.2 386.8 1090.4C390.9 1080.7 395.9 1072.7 401.3 1061.5C406.7 1050.3 414.4 1033.8 419.3 1023.5C424.2 1013.2 426.2 1008.8 431.0 1000.0C435.8 991.2 443.0 980.7 448.3 971.0C453.6 961.3 457.3 952.5 462.7 942.0C468.1 931.5 473.6 919.2 480.8 908.0C488.0 896.8 499.3 885.9 506.0 875.0C512.7 864.1 516.6 852.7 521.0 842.5C525.4 832.3 529.2 822.8 532.6 813.6C536.0 804.5 537.9 795.3 541.3 787.6C544.7 779.9 548.0 773.3 552.8 767.3C557.6 761.3 563.7 756.7 570.2 751.4C576.7 746.1 585.1 741.0 591.9 735.5C598.6 730.0 605.2 724.9 610.7 718.1C616.2 711.4 620.4 703.9 625.2 695.0C630.0 686.1 634.8 673.6 639.6 664.6C644.4 655.6 647.9 648.2 654.0 641.0C660.1 633.8 665.5 632.2 676.0 621.2C686.5 610.2 704.1 588.5 717.0 575.0C729.9 561.5 742.8 550.2 753.4 540.0C764.0 529.8 771.5 523.8 780.5 514.0C789.5 504.2 798.7 489.0 807.7 481.0C816.8 473.0 823.5 472.0 834.8 466.0C846.1 460.0 864.2 451.0 875.5 445.0C886.8 439.0 891.3 436.2 902.6 430.0C913.9 423.8 932.0 413.2 943.3 408.0C954.6 402.8 959.1 403.2 970.4 398.5C981.7 393.8 997.8 386.0 1011.1 380.0C1024.4 374.0 1039.0 367.6 1050.0 362.5C1061.0 357.4 1068.0 353.8 1077.0 349.5C1086.0 345.2 1094.2 341.8 1104.2 337.0C1114.2 332.2 1127.8 324.4 1136.8 320.9C1145.8 317.4 1150.4 321.0 1158.5 316.0C1166.6 311.0 1177.5 297.4 1185.6 291.0C1193.7 284.6 1198.2 279.5 1207.3 277.5C1216.3 275.5 1230.0 280.8 1239.9 278.8C1249.9 276.8 1258.0 269.4 1267.0 265.3C1276.0 261.2 1285.0 257.6 1294.0 254.4C1303.0 251.2 1312.2 249.2 1321.2 246.3C1330.2 243.5 1341.1 239.1 1348.3 237.3C1355.5 235.5 1358.7 234.8 1364.6 235.4C1370.5 236.0 1377.7 239.2 1383.6 240.9C1389.5 242.6 1392.2 245.6 1399.9 245.6C1407.6 245.6 1419.3 241.7 1429.7 240.9C1440.1 240.1 1451.5 241.4 1462.3 240.9C1473.1 240.4 1484.4 236.4 1494.8 238.0C1505.2 239.6 1513.8 245.8 1524.6 250.4C1535.4 255.0 1550.4 263.0 1559.9 265.3C1569.4 267.6 1572.6 262.9 1581.6 264.0C1590.6 265.1 1604.2 269.3 1614.1 272.0C1623.9 274.7 1629.5 276.1 1640.7 280.0C1651.9 283.9 1667.9 291.0 1681.4 295.5C1695.0 300.0 1710.7 303.2 1722.0 307.0C1733.3 310.8 1741.5 314.2 1749.2 318.3C1756.9 322.4 1761.4 325.7 1768.2 331.5C1775.0 337.3 1782.7 346.0 1789.9 353.2C1797.1 360.4 1804.8 367.8 1811.6 374.9C1818.4 382.0 1824.6 388.6 1830.5 395.6C1836.4 402.6 1840.9 408.9 1846.8 417.0C1852.7 425.1 1859.5 435.1 1865.8 444.1C1872.1 453.1 1877.1 459.0 1884.8 471.2C1892.5 483.4 1903.8 502.8 1911.9 517.3C1920.0 531.8 1926.8 544.0 1933.6 558.0C1940.4 572.0 1947.4 587.7 1952.6 601.4C1957.8 615.1 1960.4 625.3 1964.8 640.0C1969.1 654.7 1974.4 673.0 1978.7 689.5C1983.0 706.0 1986.9 722.4 1990.5 739.0C1994.2 755.6 1997.2 772.4 2000.5 789.0C2003.8 805.6 2007.5 822.1 2010.5 838.7C2013.5 855.3 2016.1 873.2 2018.4 888.4C2020.7 903.6 2022.5 917.8 2024.4 930.0C2026.3 942.2 2027.2 946.0 2029.6 961.5C2032.0 977.0 2035.6 1002.5 2038.9 1023.0C2042.2 1043.5 2046.5 1066.7 2049.6 1084.4C2052.7 1102.1 2054.3 1112.3 2057.3 1129.0C2060.2 1145.7 2064.1 1168.0 2067.3 1184.8C2070.5 1201.6 2073.0 1214.8 2076.3 1229.7C2079.6 1244.7 2082.8 1260.2 2087.0 1274.5C2091.2 1288.8 2096.9 1305.0 2101.4 1315.7C2105.9 1326.5 2109.5 1332.3 2113.8 1339.0C2118.2 1345.7 2122.4 1351.0 2127.5 1356.0C2132.6 1361.0 2138.4 1365.5 2144.5 1369.0C2150.6 1372.5 2157.8 1374.5 2164.1 1376.7C2170.3 1378.9 2176.0 1381.2 2182.0 1382.0C2188.0 1382.8 2194.8 1381.5 2200.0 1381.2C2205.2 1380.9 2210.8 1380.2 2213.0 1380.0L2220.0 1379.4" stroke="#ff0000"/>
<path d="M315.0 1150.4L322.0 1143.0C324.8 1140.0 333.7 1130.8 339.0 1125.0C344.3 1119.2 346.9 1116.1 354.0 1108.5C361.1 1100.9 373.5 1090.8 381.4 1079.6C389.3 1068.4 395.6 1052.4 401.3 1041.6C407.0 1030.8 410.9 1021.4 415.7 1014.5C420.5 1007.6 425.1 1004.1 430.0 1000.0C434.9 995.9 440.4 993.6 445.0 990.0C449.6 986.4 452.5 986.5 457.3 978.5C462.1 970.5 467.9 954.7 473.6 942.3C479.3 929.9 484.5 917.6 491.7 904.3C498.9 891.0 506.8 877.5 517.0 862.7C527.2 847.9 541.2 831.4 553.2 815.7C565.2 800.0 578.5 783.0 589.3 768.7C600.1 754.4 609.3 741.2 617.8 729.7C626.2 718.2 632.9 710.4 640.0 700.0C647.1 689.6 650.0 681.3 660.5 667.3C671.0 653.3 689.1 632.5 703.0 615.8C716.9 599.1 730.8 581.9 744.0 567.0C757.2 552.1 770.9 538.5 782.0 526.3C793.1 514.0 799.9 502.1 810.9 493.5C821.9 484.9 835.3 481.7 848.3 474.5C861.3 467.3 875.4 458.5 889.0 450.2C902.6 441.9 916.1 433.0 929.7 424.5C943.3 416.0 956.8 407.3 970.4 399.4C984.0 391.5 997.8 384.0 1011.1 377.3C1024.4 370.6 1039.0 364.3 1050.0 359.2C1061.0 354.1 1068.0 350.2 1077.0 346.5C1086.0 342.8 1094.0 341.5 1104.0 337.0C1114.0 332.5 1125.5 326.0 1136.8 319.5C1148.1 313.0 1161.2 303.4 1172.0 297.8C1182.8 292.2 1191.5 290.1 1201.9 285.6C1212.3 281.1 1223.6 273.9 1234.4 270.7C1245.2 267.5 1257.1 269.1 1267.0 266.6C1276.9 264.1 1285.0 259.0 1294.0 255.8C1303.0 252.6 1311.7 250.1 1321.2 247.6C1330.7 245.1 1342.0 242.2 1351.0 240.9C1360.0 239.6 1367.8 239.3 1375.5 240.0C1383.2 240.7 1388.2 245.3 1397.2 245.0C1406.2 244.7 1418.9 239.2 1429.7 238.0C1440.5 236.8 1451.0 237.3 1462.3 238.0C1473.6 238.7 1485.8 240.8 1497.5 242.2C1509.2 243.6 1521.5 244.3 1532.8 246.3C1544.1 248.3 1553.1 251.5 1565.3 254.4C1577.5 257.4 1593.4 260.4 1606.0 264.0C1618.6 267.6 1628.1 271.3 1640.7 276.0C1653.3 280.7 1667.9 287.5 1681.4 292.2C1695.0 296.9 1710.7 300.5 1722.0 304.4C1733.3 308.2 1741.5 311.4 1749.2 315.3C1756.9 319.2 1761.4 322.1 1768.2 327.5C1775.0 332.9 1782.7 340.3 1789.9 347.5C1797.1 354.7 1804.8 363.4 1811.6 370.9C1818.4 378.4 1824.6 384.9 1830.5 392.6C1836.4 400.3 1840.9 408.4 1846.8 417.0C1852.7 425.6 1859.5 435.1 1865.8 444.1C1872.1 453.1 1877.1 459.0 1884.8 471.2C1892.5 483.4 1903.8 502.8 1911.9 517.3C1920.0 531.8 1926.8 544.0 1933.6 558.0C1940.4 572.0 1947.4 587.7 1952.6 601.4C1957.8 615.1 1960.4 625.3 1964.8 640.0C1969.1 654.7 1974.4 673.0 1978.7 689.5C1983.0 706.0 1986.9 722.4 1990.5 739.0C1994.2 755.6 1997.2 772.4 2000.5 789.0C2003.8 805.6 2007.5 822.1 2010.5 838.7C2013.5 855.3 2016.1 873.2 2018.4 888.4C2020.7 903.6 2022.5 917.8 2024.4 930.0C2026.3 942.2 2027.2 946.0 2029.6 961.5C2032.0 977.0 2035.6 1002.5 2038.9 1023.0C2042.2 1043.5 2046.5 1066.7 2049.6 1084.4C2052.7 1102.1 2054.3 1112.3 2057.3 1129.0C2060.2 1145.7 2064.1 1168.0 2067.3 1184.8C2070.5 1201.6 2073.0 1214.8 2076.3 1229.7C2079.6 1244.7 2082.8 1260.2 2087.0 1274.5C2091.2 1288.8 2096.9 1305.0 2101.4 1315.7C2105.9 1326.5 2109.5 1332.3 2113.8 1339.0C2118.2 1345.7 2122.4 1351.0 2127.5 1356.0C2132.6 1361.0 2138.4 1365.5 2144.5 1369.0C2150.6 1372.5 2157.8 1374.5 2164.1 1376.7C2170.3 1378.9 2176.0 1381.2 2182.0 1382.0C2188.0 1382.8 2194.8 1381.5 2200.0 1381.2C2205.2 1380.9 2210.8 1380.2 2213.0 1380.0L2220.0 1379.4" stroke="#0000ff"/>
<path d="M315.1 1361.3L322.1 1351.3C325.0 1344.1 334.9 1319.9 339.2 1308.3C343.5 1296.7 344.8 1287.8 348.1 1281.4C351.4 1275.0 354.7 1270.3 358.9 1269.7C363.1 1269.1 369.0 1275.8 373.2 1277.8C377.4 1279.8 380.4 1282.0 384.0 1281.4C387.6 1280.8 391.2 1279.6 394.8 1274.2C398.4 1268.8 401.9 1259.2 405.5 1249.0C409.1 1238.8 412.4 1224.0 416.3 1213.2C420.2 1202.5 423.1 1194.0 428.8 1184.5C434.5 1175.0 443.4 1165.2 450.3 1155.9C457.2 1146.7 464.3 1137.5 470.0 1129.0C475.7 1120.5 477.2 1112.2 484.4 1104.9C491.6 1097.6 505.5 1093.5 513.4 1085.0C521.2 1076.5 525.8 1065.2 531.5 1054.0C537.2 1042.8 543.2 1027.0 547.7 1018.0C552.2 1009.0 551.7 1010.8 558.6 1000.0C565.5 989.2 580.6 966.8 589.3 953.0C598.0 939.2 605.0 927.5 611.0 917.0C617.0 906.5 620.7 900.5 625.5 890.0C630.3 879.5 635.2 863.7 640.0 853.7C644.8 843.7 647.8 837.5 654.4 830.0C661.0 822.5 672.6 814.2 679.7 808.5C686.8 802.8 689.7 804.6 697.0 796.0C704.3 787.4 715.6 771.0 723.6 756.8C731.6 742.6 737.2 724.0 745.3 710.7C753.4 697.4 761.9 689.3 772.4 677.0C782.9 664.7 796.2 648.5 808.0 637.0C819.8 625.5 831.6 618.9 842.9 607.7C854.1 596.5 864.6 578.3 875.5 569.7C886.4 561.1 896.7 562.8 908.0 556.0C919.3 549.2 932.9 537.8 943.3 529.0C953.7 520.2 959.1 511.8 970.4 503.0C981.7 494.2 997.8 485.0 1011.1 476.5C1024.4 468.0 1036.7 460.9 1050.0 452.0C1063.3 443.1 1076.2 432.4 1090.7 423.0C1105.2 413.6 1121.0 405.3 1136.8 395.5C1152.6 385.7 1168.4 374.3 1185.6 364.3C1202.8 354.3 1224.1 343.4 1239.9 335.5C1255.7 327.6 1267.0 322.8 1280.5 317.0C1294.0 311.2 1307.6 304.6 1321.2 300.5C1334.8 296.4 1349.7 294.5 1361.9 292.4C1374.1 290.3 1383.2 288.2 1394.5 287.8C1405.8 287.4 1418.4 292.1 1429.7 289.7C1441.0 287.3 1453.2 275.7 1462.3 273.4C1471.3 271.1 1475.0 273.5 1484.0 276.0C1493.0 278.5 1504.3 287.2 1516.5 288.3C1528.7 289.4 1544.5 281.3 1557.2 282.9C1569.9 284.5 1581.2 295.2 1592.5 297.8C1603.8 300.4 1614.7 296.8 1625.0 298.6C1635.3 300.4 1644.4 305.9 1654.2 308.5C1664.0 311.1 1672.7 309.2 1684.0 314.0C1695.3 318.8 1708.9 330.0 1722.0 337.0C1735.1 344.0 1751.4 350.2 1762.7 356.0C1774.0 361.8 1780.9 363.7 1789.9 372.0C1799.0 380.3 1808.0 394.9 1817.0 406.0C1826.0 417.1 1835.1 427.4 1844.1 438.7C1853.1 450.0 1862.2 461.4 1871.2 474.0C1880.2 486.6 1889.2 499.7 1898.3 514.6C1907.3 529.5 1917.8 548.9 1925.5 563.4C1933.2 577.9 1938.5 588.7 1944.4 601.4C1950.3 614.1 1956.0 625.1 1961.1 639.8C1966.2 654.5 1970.8 672.9 1975.1 689.5C1979.4 706.1 1983.4 722.7 1987.0 739.3C1990.6 755.9 1993.6 772.4 1996.9 789.0C2000.2 805.6 2003.9 822.1 2006.9 838.7C2009.9 855.3 2012.5 873.2 2014.8 888.4C2017.1 903.6 2018.9 917.8 2020.8 930.0C2022.7 942.2 2023.6 946.0 2026.0 961.5C2028.4 977.0 2032.0 1002.5 2035.3 1023.0C2038.6 1043.5 2042.9 1066.7 2046.0 1084.4C2049.1 1102.1 2050.8 1112.3 2053.7 1129.0C2056.6 1145.7 2060.5 1168.0 2063.7 1184.8C2066.9 1201.6 2069.4 1214.8 2072.7 1229.7C2076.0 1244.7 2079.5 1260.2 2083.4 1274.5C2087.3 1288.8 2091.5 1303.8 2096.0 1315.7C2100.5 1327.7 2104.9 1336.9 2110.3 1346.2C2115.7 1355.5 2122.3 1365.6 2128.3 1371.3C2134.3 1377.0 2140.2 1377.5 2146.2 1380.3C2152.2 1383.1 2159.0 1386.2 2164.1 1388.3C2169.2 1390.4 2172.2 1392.0 2176.7 1392.8C2181.2 1393.5 2185.6 1393.5 2191.0 1392.8C2196.4 1392.0 2205.3 1389.3 2209.0 1388.3C2212.7 1387.3 2212.3 1387.2 2213.0 1387.0L2220.0 1384.7" stroke="#ff8000"/>
<path d="M315.1 1252.1L322.1 1261.7C324.1 1264.4 329.5 1273.5 333.8 1277.8C338.1 1282.1 343.9 1286.2 348.1 1287.7C352.3 1289.2 354.7 1289.3 358.9 1286.8C363.1 1284.2 367.8 1279.0 373.2 1272.4C378.6 1265.8 385.2 1254.0 391.2 1247.3C397.2 1240.6 403.7 1235.0 409.1 1232.0C414.5 1229.0 418.0 1229.3 423.4 1229.0C428.8 1228.7 436.0 1231.4 441.4 1230.3C446.8 1229.2 450.9 1227.1 455.7 1222.2C460.5 1217.3 464.9 1207.4 470.0 1200.7C475.1 1194.0 481.1 1185.4 486.2 1181.9C491.3 1178.5 495.1 1180.3 500.5 1180.0C505.9 1179.7 513.4 1181.3 518.5 1180.0C523.6 1178.7 525.9 1176.9 531.0 1172.0C536.1 1167.1 543.8 1156.3 549.0 1150.5C554.2 1144.7 555.5 1144.1 562.2 1137.4C568.9 1130.7 580.2 1119.4 589.3 1110.3C598.3 1101.2 609.0 1093.0 616.5 1083.0C624.0 1073.0 628.5 1061.4 634.5 1050.6C640.5 1039.8 647.5 1026.4 652.6 1018.0C657.7 1009.6 657.4 1011.4 665.3 1000.0C673.2 988.6 689.2 965.0 700.0 949.5C710.8 934.0 720.0 920.9 730.0 907.0C740.0 893.1 749.7 880.0 760.0 866.0C770.3 852.0 783.4 834.5 791.9 823.0C800.4 811.5 803.2 806.5 810.9 797.0C818.6 787.5 828.5 776.2 838.0 766.0C847.5 755.8 856.5 746.5 867.8 735.5C879.1 724.5 893.8 711.6 905.8 700.0C917.8 688.4 927.4 677.7 940.0 666.0C952.6 654.3 971.2 639.3 981.7 630.0C992.2 620.7 995.6 616.7 1003.0 610.0C1010.4 603.3 1018.2 596.0 1026.0 590.0C1033.8 584.0 1038.0 582.2 1050.0 574.0C1062.0 565.8 1083.5 550.6 1098.0 540.5C1112.5 530.4 1122.2 523.3 1136.8 513.4C1151.4 503.5 1169.3 491.8 1185.6 480.9C1201.9 470.0 1220.8 455.1 1234.4 448.3C1248.0 441.5 1255.7 445.2 1267.0 440.2C1278.3 435.2 1290.9 423.7 1302.2 418.5C1313.5 413.3 1323.0 413.5 1334.8 409.0C1346.6 404.5 1362.8 394.9 1372.8 391.4C1382.8 387.9 1385.0 388.7 1394.5 388.1C1404.0 387.6 1418.4 389.1 1429.7 388.1C1441.0 387.1 1451.0 383.8 1462.3 381.9C1473.6 380.0 1487.6 378.6 1497.5 376.5C1507.4 374.4 1515.1 370.3 1521.9 369.1C1528.7 367.9 1531.0 367.9 1538.2 369.1C1545.4 370.3 1556.2 375.7 1565.3 376.5C1574.3 377.3 1582.9 372.7 1592.5 373.8C1602.1 374.9 1612.7 379.2 1623.0 383.0C1633.3 386.8 1643.1 393.9 1654.2 396.6C1665.3 399.3 1678.7 396.6 1689.5 399.3C1700.3 402.0 1709.3 410.2 1719.3 412.9C1729.2 415.6 1741.0 413.4 1749.2 415.6C1757.4 417.8 1761.4 421.0 1768.2 426.0C1775.0 431.0 1781.8 439.3 1789.9 445.5C1798.0 451.7 1808.9 456.1 1817.0 463.0C1825.1 469.9 1831.6 477.0 1838.7 487.0C1845.8 497.0 1851.8 511.4 1859.5 522.8C1867.2 534.2 1877.0 544.5 1884.8 555.3C1892.6 566.1 1899.6 576.7 1906.5 587.8C1913.4 598.9 1920.2 611.3 1926.0 622.0C1931.8 632.7 1936.3 641.7 1941.0 652.0C1945.7 662.3 1949.3 671.1 1954.0 684.0C1958.7 696.9 1964.8 715.1 1969.0 729.3C1973.2 743.5 1975.9 754.1 1979.3 769.0C1982.7 783.9 1986.5 803.9 1989.5 818.8C1992.5 833.7 1994.9 845.1 1997.5 858.6C2000.1 872.1 2002.1 882.9 2005.0 900.0C2007.9 917.1 2011.8 941.0 2015.0 961.5C2018.2 982.0 2020.8 1002.5 2024.0 1023.0C2027.2 1043.5 2031.6 1066.7 2034.5 1084.4C2037.4 1102.1 2038.8 1112.3 2041.5 1129.0C2044.2 1145.7 2047.9 1168.0 2050.9 1184.8C2054.0 1201.6 2056.5 1214.8 2059.8 1229.7C2063.1 1244.7 2066.7 1260.2 2070.6 1274.5C2074.5 1288.8 2078.3 1304.4 2083.4 1315.7C2088.5 1327.0 2095.4 1335.4 2101.4 1342.6C2107.4 1349.8 2113.3 1354.8 2119.3 1358.8C2125.3 1362.8 2131.2 1364.9 2137.2 1366.8C2143.2 1368.7 2148.3 1369.4 2155.2 1370.0C2162.1 1370.6 2171.6 1369.6 2178.5 1370.4C2185.4 1371.2 2190.7 1373.6 2196.4 1374.9C2202.2 1376.2 2210.2 1377.5 2213.0 1378.0L2220.0 1379.3" stroke="#800080"/>
</g>
<g stroke-width="12" fill="none">
<path d="M1105.5 846.0 H1269.7" stroke="#ff0000"/>
<path d="M1105.5 928.6 H1269.7" stroke="#0000ff"/>
<path d="M1105.5 1009.3 H1269.7" stroke="#ff8000"/>
<path d="M1105.5 1091.2 H1269.7" stroke="#800080"/>
<path d="M1123 1276.4h30.5M1173 1276.4h30.5M1222 1276.4h30" stroke="#000"/>
</g>
<g font-family="Liberation Sans, sans-serif" fill="#000">
<g font-size="87">
<text x="1103.5" y="794" textLength="309" lengthAdjust="spacingAndGlyphs">Inverted</text>
<text x="1322.5" y="876.8" textLength="512" lengthAdjust="spacingAndGlyphs">S-043, 690°C</text>
<text x="1322.5" y="957.4" textLength="512" lengthAdjust="spacingAndGlyphs">S-036, 700°C</text>
<text x="1322.5" y="1039.2" textLength="512" lengthAdjust="spacingAndGlyphs">S-033, 710°C</text>
<text x="1322.5" y="1119.6" textLength="512" lengthAdjust="spacingAndGlyphs">S-037, 720°C</text>
<text x="1322.5" y="1307.1" textLength="512" lengthAdjust="spacingAndGlyphs">S-018, 710°C</text>
<text x="1103" y="1225.3" textLength="276" lengthAdjust="spacingAndGlyphs">Upright</text>
</g>
<g font-size="100.5" text-anchor="middle">
<text x="483.1" y="1509" textLength="164.3" lengthAdjust="spacingAndGlyphs">350</text>
<text x="807.9" y="1509" textLength="164.3" lengthAdjust="spacingAndGlyphs">400</text>
<text x="1132.5" y="1509" textLength="164.3" lengthAdjust="spacingAndGlyphs">450</text>
<text x="1461.8" y="1509" textLength="164.3" lengthAdjust="spacingAndGlyphs">500</text>
<text x="1789.2" y="1509" textLength="164.3" lengthAdjust="spacingAndGlyphs">550</text>
<text x="2115.3" y="1509" textLength="164.3" lengthAdjust="spacingAndGlyphs">600</text>
</g>
<g font-size="103" text-anchor="end">
<text x="292.5" y="1434.8" textLength="55.9" lengthAdjust="spacingAndGlyphs">0</text>
<text x="292.5" y="1165.0" textLength="111.8" lengthAdjust="spacingAndGlyphs">20</text>
<text x="292.5" y="895.2" textLength="111.8" lengthAdjust="spacingAndGlyphs">40</text>
<text x="292.5" y="625.4" textLength="111.8" lengthAdjust="spacingAndGlyphs">60</text>
<text x="292.5" y="355.6" textLength="111.8" lengthAdjust="spacingAndGlyphs">80</text>
<text x="292.5" y="85.8" textLength="167.7" lengthAdjust="spacingAndGlyphs">100</text>
</g>
<text x="1269.7" y="1647.7" font-size="107" text-anchor="middle" textLength="833" lengthAdjust="spacingAndGlyphs">Wavelength (nm)</text>
<text transform="translate(94.7,723.7) rotate(-90)" font-size="110.5" text-anchor="middle">IQE (%)</text>
</g>
</svg></body></html>
